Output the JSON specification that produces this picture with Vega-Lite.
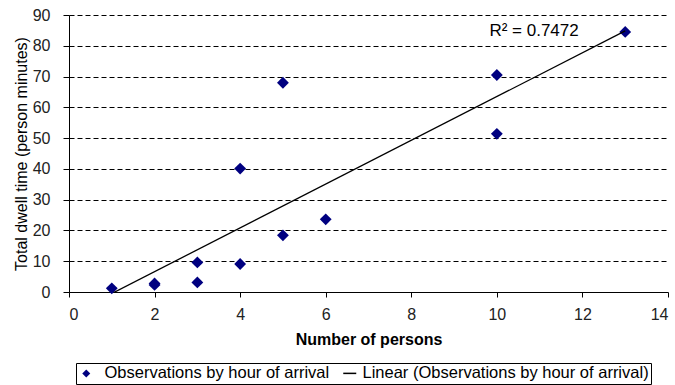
{
  "$schema": "https://vega.github.io/schema/vega-lite/v6.json",
  "width": 599,
  "height": 277,
  "autosize": "none",
  "padding": {"left": 69, "top": 15, "right": 7, "bottom": 93},
  "background": "white",
  "config": {
    "font": "Liberation Sans",
    "view": {"stroke": null}
  },
  "data": {
    "values": [
      {"persons": 1, "dwell": 1.2, "series": "Observations by hour of arrival"},
      {"persons": 2, "dwell": 2.3, "series": "Observations by hour of arrival"},
      {"persons": 2, "dwell": 2.8, "series": "Observations by hour of arrival"},
      {"persons": 3, "dwell": 9.6, "series": "Observations by hour of arrival"},
      {"persons": 3, "dwell": 3.1, "series": "Observations by hour of arrival"},
      {"persons": 4, "dwell": 40.1, "series": "Observations by hour of arrival"},
      {"persons": 4, "dwell": 9.1, "series": "Observations by hour of arrival"},
      {"persons": 5, "dwell": 68.0, "series": "Observations by hour of arrival"},
      {"persons": 5, "dwell": 18.4, "series": "Observations by hour of arrival"},
      {"persons": 6, "dwell": 23.6, "series": "Observations by hour of arrival"},
      {"persons": 10, "dwell": 70.5, "series": "Observations by hour of arrival"},
      {"persons": 10, "dwell": 51.4, "series": "Observations by hour of arrival"},
      {"persons": 13, "dwell": 84.5, "series": "Observations by hour of arrival"}
    ]
  },
  "encoding": {
    "x": {"field": "persons", "type": "quantitative", "title": "Number of persons",
      "scale": {"domain": [0, 14], "nice": false},
      "axis": {"tickCount": 7, "grid": false, "tickSize": 5, "labelPadding": 9, "titlePadding": 9,
        "labelFont": "Liberation Sans", "labelFontSize": 16, "labelColor": "#222", "labelOverlap": false,
        "titleFont": "Liberation Sans", "titleFontSize": 16, "titleFontWeight": "bold", "titleColor": "#000",
        "domainColor": "#000", "tickColor": "#000"}},
    "y": {"field": "dwell", "type": "quantitative", "title": "Total dwell time (person minutes)",
      "scale": {"domain": [0, 90], "nice": false},
      "axis": {"tickCount": 10, "grid": true, "gridColor": "#000", "gridDash": [5, 3], "gridWidth": 1, "tickSize": 6, "labelPadding": 13, "titlePadding": 3,
        "labelFont": "Liberation Sans", "labelFontSize": 16, "labelColor": "#222", "labelOverlap": false,
        "titleFont": "Liberation Sans", "titleFontSize": 16, "titleFontWeight": "normal", "titleColor": "#000",
        "domainColor": "#000", "tickColor": "#000"}}
  },
  "layer": [
    {
      "mark": {"type": "point", "filled": true, "opacity": 1, "size": 140},
      "encoding": {
        "shape": {"field": "series", "type": "nominal",
          "scale": {"domain": ["Observations by hour of arrival", "Linear (Observations by hour of arrival)"], "range": ["diamond", "M-0.25,-0.19L3,-0.19L3,0.19L-0.25,0.19Z"]},
          "legend": {"title": null, "orient": "none", "legendX": 7, "legendY": 348, "direction": "horizontal", "strokeColor": "#000", "padding": 2, "labelFontSize": 16.5, "labelFont": "Liberation Sans", "labelColor": "#000", "labelLimit": 0, "symbolSize": 64, "columnPadding": 6, "labelOffset": 10, "symbolStrokeWidth": 0}
        },
        "color": {"field": "series", "type": "nominal",
          "scale": {"domain": ["Observations by hour of arrival", "Linear (Observations by hour of arrival)"], "range": ["#000080", "#000000"]}}
      }
    },
    {
      "transform": [{"regression": "dwell", "on": "persons", "extent": [1, 13]}],
      "mark": {"type": "line", "color": "#000", "strokeWidth": 1.3, "clip": true},
      "encoding": {}
    },
    {
      "data": {"values": [{"persons": 10.87, "dwell": 84.8, "label": "R² = 0.7472"}]},
      "mark": {"type": "text", "fontSize": 17, "font": "Liberation Sans", "color": "#000", "align": "center", "baseline": "middle"},
      "encoding": {
        "text": {"field": "label"}
      }
    }
  ]
}
